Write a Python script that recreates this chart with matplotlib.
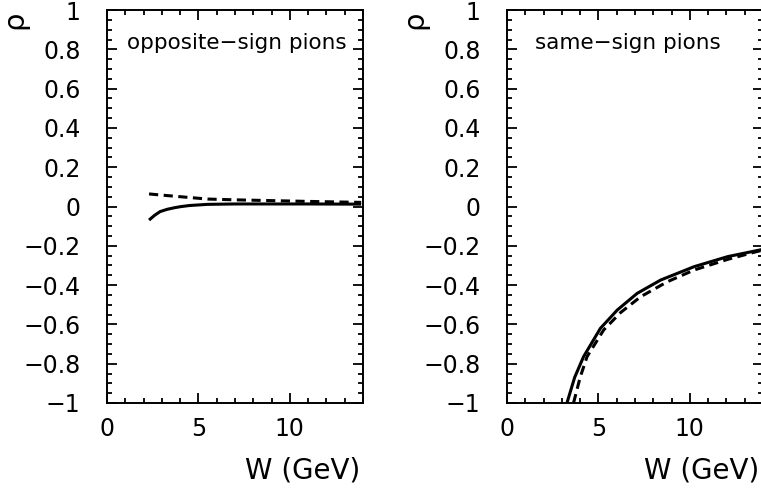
"""
    Correlation rho vs W for opposite-sign and same-sign pions
"""
import matplotlib
matplotlib.use('Agg')
import matplotlib.pyplot as plt
from matplotlib.ticker import MultipleLocator

# opposite-sign pions
os_solid_w = [2.3, 2.6, 2.9, 3.3, 3.7, 4.0, 4.5, 5.5, 7.0, 9.0, 11.0, 13.9]
os_solid_rho = [-0.069, -0.045, -0.026, -0.014, -0.006, -0.001, 0.005, 0.011, 0.013, 0.013, 0.013, 0.012]
os_dash_w = [2.3, 3.0, 4.0, 5.5, 7.0, 9.0, 11.0, 13.9]
os_dash_rho = [0.064, 0.058, 0.050, 0.038, 0.034, 0.030, 0.026, 0.021]

# same-sign pions
ss_solid_w = [3.28, 3.7, 4.19, 5.11, 6.03, 7.12, 8.41, 10.24, 12.07, 13.63, 14.0]
ss_solid_rho = [-1.0, -0.87, -0.764, -0.62, -0.527, -0.442, -0.374, -0.306, -0.255, -0.225, -0.218]
ss_dash_w = [3.64, 4.0, 4.38, 5.29, 6.21, 7.31, 8.77, 10.24, 12.07, 13.63, 14.0]
ss_dash_rho = [-1.0, -0.87, -0.764, -0.628, -0.54, -0.459, -0.383, -0.323, -0.269, -0.23, -0.222]

yticks = [-1, -0.8, -0.6, -0.4, -0.2, 0, 0.2, 0.4, 0.6, 0.8, 1]
ytick_labels = ['\u22121', '\u22120.8', '\u22120.6', '\u22120.4', '\u22120.2', '0',
                '0.2', '0.4', '0.6', '0.8', '1']
xticks = [0, 5, 10]
xtick_labels = ['0', '5', '10']

panels = [
    ('opposite\u2212sign pions', os_solid_w, os_solid_rho, os_dash_w, os_dash_rho, 0.1406, 0.078, 0.99),
    ('same\u2212sign pions', ss_solid_w, ss_solid_rho, ss_dash_w, ss_dash_rho, 0.6662, 0.109, 0.985),
]

fig = plt.figure(figsize=(7.61, 4.93), dpi=100)

for title, sw, sr, dw, dr, left, tx, lx in panels:
    ax = fig.add_axes([left, 0.1826, 0.3364, 0.797])
    ax.plot(sw, sr, color='black', lw=2.2, solid_capstyle='butt')
    ax.plot(dw, dr, color='black', lw=2.2, dashes=(3, 1.8))
    ax.set_xlim(0, 14)
    ax.set_ylim(-1, 1)
    ax.set_xticks(xticks)
    ax.set_xticklabels(xtick_labels)
    ax.set_yticks(yticks)
    ax.set_yticklabels(ytick_labels)
    ax.xaxis.set_minor_locator(MultipleLocator(1))
    ax.yaxis.set_minor_locator(MultipleLocator(0.05))
    ax.tick_params(which='both', direction='in', top=True, right=True, width=1.3)
    ax.tick_params(which='major', length=7.5)
    ax.tick_params(which='minor', length=3.8)
    ax.tick_params(axis='y', which='major', pad=19, labelsize=17)
    ax.tick_params(axis='x', which='major', pad=10, labelsize=17)
    for sp in ax.spines.values():
        sp.set_linewidth(1.4)
    ax.text(tx, 0.915, title, transform=ax.transAxes, fontsize=15.5,
            ha='left', va='center')
    ax.set_xlabel('W (GeV)', fontsize=20, ha='right')
    ax.xaxis.set_label_coords(lx, -0.135)
    # rotated rho as the y-axis label
    fig.text(left - 0.122, 0.96, '\u03c1', rotation=90, fontsize=21,
             ha='center', va='center')

fig.savefig('out.png', dpi=100)
